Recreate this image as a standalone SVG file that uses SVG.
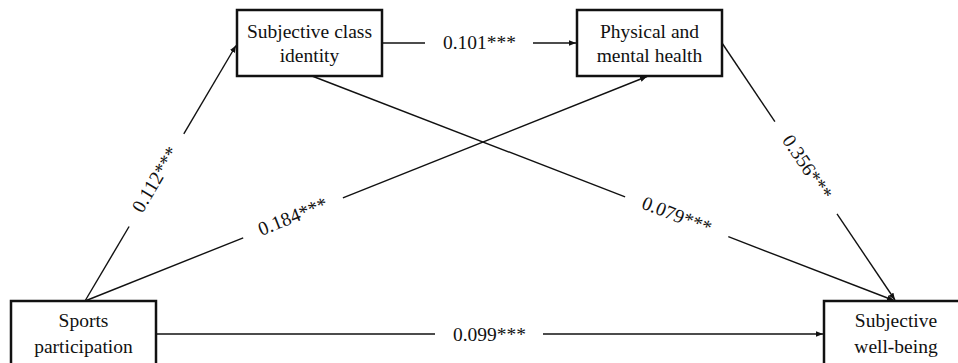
<svg xmlns="http://www.w3.org/2000/svg" width="958" height="363" viewBox="0 0 958 363">
<style>
.box{fill:#fff;stroke:#111;stroke-width:2.5}
.t{font-family:"Liberation Serif","Times New Roman",serif;font-size:19.5px;fill:#111;text-anchor:middle}
.ln{stroke:#111;stroke-width:1.4;fill:none}
</style>
<defs>
<marker id="ar" viewBox="0 0 10 10" refX="10" refY="5" markerWidth="7" markerHeight="7" markerUnits="userSpaceOnUse" orient="auto">
<path d="M0,1 L10,5 L0,9 Z" fill="#111"/>
</marker>
</defs>
<rect width="958" height="363" fill="#fff"/>
<g id="connectors">
<line class="ln" x1="85" y1="301" x2="129.1" y2="226.5"/>
<line class="ln" x1="183.8" y1="133.9" x2="236" y2="45.5" marker-end="url(#ar)"/>
<text class="t" transform="translate(156.4,180.2) rotate(-59.3)" y="5">0.112***</text>
<line class="ln" x1="85" y1="301" x2="243.2" y2="237.8"/>
<line class="ln" x1="342.9" y1="197.9" x2="647" y2="76.5" marker-end="url(#ar)"/>
<text class="t" transform="translate(293.3,217.8) rotate(-21.78)" y="5">0.184***</text>
<line class="ln" x1="312" y1="76" x2="625.1" y2="196.8"/>
<line class="ln" x1="728.3" y1="236.7" x2="894" y2="300.5" marker-end="url(#ar)"/>
<text class="t" transform="translate(676.4,216.6) rotate(21.1)" y="5">0.079***</text>
<line class="ln" x1="722" y1="43" x2="774.9" y2="121.6"/>
<line class="ln" x1="837" y1="213.9" x2="895" y2="300" marker-end="url(#ar)"/>
<text class="t" transform="translate(806.1,167.9) rotate(56.05)" y="5">0.356***</text>
<line class="ln" x1="382" y1="43" x2="425" y2="43"/>
<line class="ln" x1="533" y1="43" x2="576" y2="43" marker-end="url(#ar)"/>
<text class="t" x="479.5" y="49">0.101***</text>
<line class="ln" x1="156" y1="334" x2="435" y2="334"/>
<line class="ln" x1="543" y1="334" x2="823" y2="334" marker-end="url(#ar)"/>
<text class="t" x="489.5" y="341">0.099***</text>
</g>
<g id="subjective-class-identity">
<rect class="box" x="237" y="10" width="145" height="66"/>
<text class="t" x="309.5" y="38">Subjective class</text>
<text class="t" x="309.5" y="62">identity</text>
</g>
<g id="physical-mental-health">
<rect class="box" x="577" y="10" width="145" height="66"/>
<text class="t" x="649.5" y="38">Physical and</text>
<text class="t" x="649.5" y="62">mental health</text>
</g>
<g id="sports-participation">
<rect class="box" x="11" y="301" width="145" height="70"/>
<text class="t" x="83.5" y="327">Sports</text>
<text class="t" x="83.5" y="352.5">participation</text>
</g>
<g id="subjective-well-being">
<rect class="box" x="824" y="301" width="145" height="70"/>
<text class="t" x="896" y="327">Subjective</text>
<text class="t" x="896" y="352.5">well-being</text>
</g>
</svg>
